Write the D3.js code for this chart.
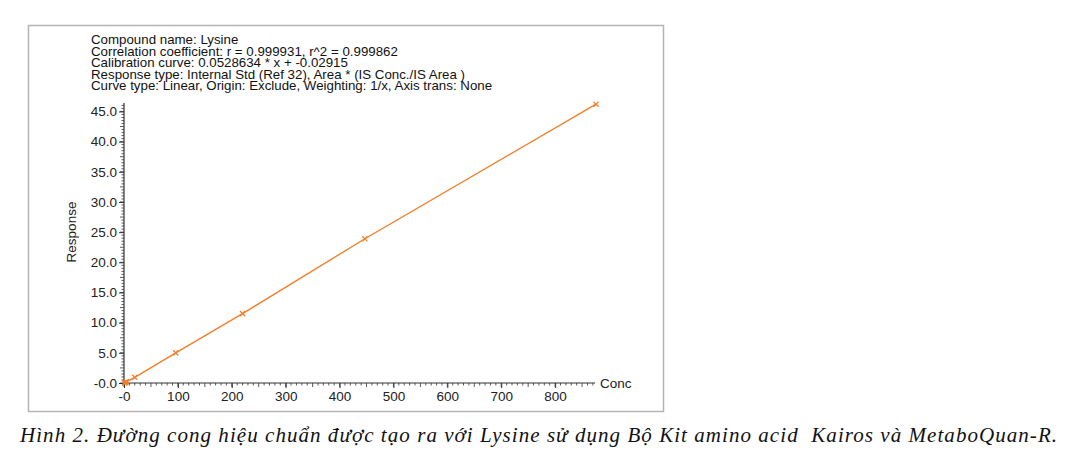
<!DOCTYPE html>
<html>
<head>
<meta charset="utf-8">
<script src="https://cdn.jsdelivr.net/npm/d3@7"></script>
<style>
  body { margin: 0; background: #fff; }
  .sans { font-family: "Liberation Sans", Arial, sans-serif; }
  .caption { font-family: "Liberation Serif", "Times New Roman", serif; font-style: italic; white-space: pre; }
</style>
</head>
<body>
<div id="chart"></div>
<script>
// data
const concs = [0.9, 2.2, 4.4, 20, 96, 220, 447, 876];
const responses = [0.02, 0.09, 0.2, 0.95, 5.0, 11.5, 23.9, 46.2];

const xTicks = [0, 100, 200, 300, 400, 500, 600, 700, 800];
const xTickLabels = ['-0', '100', '200', '300', '400', '500', '600', '700', '800'];
const yTicks = [0, 5, 10, 15, 20, 25, 30, 35, 40, 45];
const yTickLabels = ['-0.0', '5.0', '10.0', '15.0', '20.0', '25.0', '30.0', '35.0', '40.0', '45.0'];

const headerLines = [
    'Compound name: Lysine',
    'Correlation coefficient: r = 0.999931, r^2 = 0.999862',
    'Calibration curve: 0.0528634 * x + -0.02915',
    'Response type: Internal Std (Ref 32), Area * (IS Conc./IS Area )',
    'Curve type: Linear, Origin: Exclude, Weighting: 1/x, Axis trans: None'
];
const caption = 'Hình 2. Đường cong hiệu chuẩn được tạo ra với Lysine sử dụng Bộ Kit amino acid  Kairos và MetaboQuan-R.';

const W = 1073, H = 457;
const orange = '#f47f2a';
const axisColor = '#333';

const svg = d3.select('#chart').append('svg')
    .attr('width', W)
    .attr('height', H);

// frame
svg.append('rect')
    .attr('x', 28.5).attr('y', 25.5)
    .attr('width', 635).attr('height', 386)
    .attr('fill', '#fff')
    .attr('stroke', '#b4b4b4')
    .attr('stroke-width', 1.5);

// header text block
const header = svg.append('text')
    .attr('class', 'sans')
    .attr('x', 91).attr('y', 44)
    .attr('font-size', 13.3)
    .attr('fill', '#111');
header.selectAll('tspan')
    .data(headerLines)
    .enter()
    .append('tspan')
    .attr('x', 91)
    .attr('dy', (d, i) => i === 0 ? 0 : 11.6)
    .text(d => d);

// scales
const xScale = d3.scaleLinear().domain([0, 874]).range([124, 595]);
const yScale = d3.scaleLinear().domain([0, 46.4]).range([383, 103]);

// minor ticks
const xMinor = d3.range(0, 871, 10);
const yMinor = d3.range(0, 46.01, 0.5);

const xAxisG = svg.append('g').attr('transform', 'translate(0,383)');
xAxisG.append('line')
    .attr('x1', xScale(0)).attr('x2', xScale(874))
    .attr('stroke', axisColor).attr('stroke-width', 1.2);
xAxisG.selectAll('.minor')
    .data(xMinor)
    .enter().append('line')
    .attr('class', 'minor')
    .attr('x1', d => xScale(d)).attr('x2', d => xScale(d))
    .attr('y1', 0).attr('y2', d => d % 50 === 0 ? 4 : 2.5)
    .attr('stroke', axisColor).attr('stroke-width', 0.8);

const xAxis = d3.axisBottom(xScale)
    .tickValues(xTicks)
    .tickFormat((d, i) => xTickLabels[i])
    .tickSize(5)
    .tickPadding(3);
const xAx = svg.append('g')
    .attr('transform', 'translate(0,383)')
    .call(xAxis);
xAx.select('.domain').remove();
xAx.selectAll('line').attr('stroke', axisColor);
xAx.selectAll('text')
    .attr('font-size', 13.5)
    .attr('font-family', '"Liberation Sans", Arial, sans-serif')
    .attr('fill', '#222');

const yAxisG = svg.append('g').attr('transform', 'translate(124,0)');
yAxisG.append('line')
    .attr('y1', yScale(0)).attr('y2', yScale(46.4))
    .attr('stroke', axisColor).attr('stroke-width', 1.2);
yAxisG.selectAll('.minor')
    .data(yMinor)
    .enter().append('line')
    .attr('class', 'minor')
    .attr('y1', d => yScale(d)).attr('y2', d => yScale(d))
    .attr('x1', 0).attr('x2', d => Math.abs(d % 2.5) < 1e-6 ? -4 : -2.5)
    .attr('stroke', axisColor).attr('stroke-width', 0.8);

const yAxis = d3.axisLeft(yScale)
    .tickValues(yTicks)
    .tickFormat((d, i) => yTickLabels[i])
    .tickSize(5)
    .tickPadding(2);
const yAx = svg.append('g')
    .attr('transform', 'translate(124,0)')
    .call(yAxis);
yAx.select('.domain').remove();
yAx.selectAll('line').attr('stroke', axisColor);
yAx.selectAll('text')
    .attr('font-size', 13.5)
    .attr('font-family', '"Liberation Sans", Arial, sans-serif')
    .attr('fill', '#222');

// axis titles
svg.append('text')
    .attr('class', 'sans')
    .attr('x', 600).attr('y', 388)
    .attr('font-size', 13.5)
    .attr('fill', '#222')
    .text('Conc');

svg.append('text')
    .attr('class', 'sans')
    .attr('transform', 'translate(76,232) rotate(-90)')
    .attr('text-anchor', 'middle')
    .attr('font-size', 13.5)
    .attr('fill', '#222')
    .text('Response');

// calibration line through the points
const points = concs.map((c, i) => [c, responses[i]]);
const line = d3.line()
    .x(d => xScale(d[0]))
    .y(d => yScale(d[1]));
svg.append('path')
    .datum([[0, 0]].concat(points))
    .attr('d', line)
    .attr('fill', 'none')
    .attr('stroke', orange)
    .attr('stroke-width', 1.4);

// x markers
const mk = 2.6;
const marks = svg.append('g');
marks.selectAll('path')
    .data(points)
    .enter().append('path')
    .attr('d', d => {
        const x = xScale(d[0]), y = yScale(d[1]);
        return `M${x - mk},${y - mk}L${x + mk},${y + mk}M${x - mk},${y + mk}L${x + mk},${y - mk}`;
    })
    .attr('stroke', orange)
    .attr('stroke-width', 1.3)
    .attr('fill', 'none');

// caption
svg.append('text')
    .attr('class', 'caption')
    .attr('x', 20).attr('y', 442)
    .attr('font-size', 21)
    .attr('textLength', 1037)
    .attr('lengthAdjust', 'spacing')
    .attr('fill', '#111')
    .text(caption);
</script>
</body>
</html>
